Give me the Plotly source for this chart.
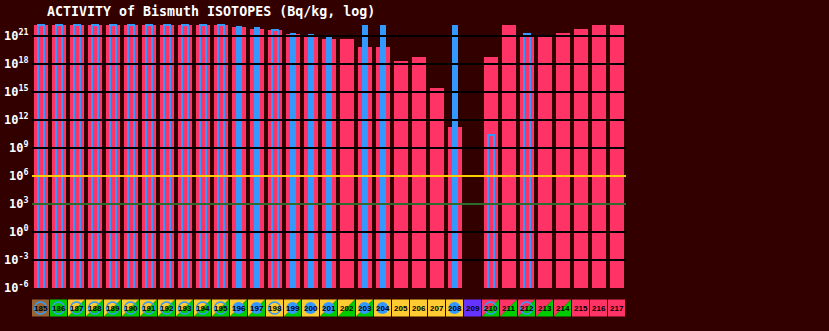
import plotly.graph_objects as go

# ---------------- data ----------------
ISOTOPES = [185, 186, 187, 188, 189, 190, 191, 192, 193, 194, 195, 196, 197, 198, 199, 200, 201,
            202, 203, 204, 205, 206, 207, 208, 209, 210, 211, 212, 213, 214, 215, 216, 217]

# ground-state activity (Bq/kg), None = no value
ACTIVITY_GROUND = [1.35e22, 1.35e22, 1.35e22, 1.35e22, 1.35e22, 1.35e22, 1.35e22, 1.35e22, 1.35e22,
                   1.35e22, 1.35e22, 8.3e21, 5.0e21, 4.0e21, 1.5e21, 9.8e20, 4.3e20, 4.3e20, 5.9e19,
                   5.9e19, 1.9e18, 5.0e18, 2.4e15, 2.0e11, None, 5.0e18, 1.35e22, 7.1e20, 8.9e20,
                   1.9e21, 5.0e21, 1.35e22, 1.35e22]

# isomer activity (Bq/kg), None = no isomer
ACTIVITY_ISOMER = [1.35e22, 1.35e22, 1.35e22, 1.35e22, 1.35e22, 1.35e22, 1.35e22, 1.35e22, 1.35e22,
                   1.35e22, 1.35e22, 1.15e22, 8.3e21, 4.0e21, 1.9e21, 1.5e21, 7.1e20, None, 1.35e22,
                   1.35e22, None, None, None, 1.35e22, None, 2.2e10, None, 1.5e21, None,
                   None, None, None, None]

# isomer kind: "est" = estimated (outline), "meas" = measured (solid), None
ISOMER_KIND = ["est", "est", "est", "est", "est", "est", "est", "est", "est", "est", "est",
               "meas", "meas", "est", "meas", "meas", "meas", None, "meas", "meas", None, None,
               None, "meas", None, "est", None, "est", None, None, None, None, None]

# decay modes (first mode drawn top-left, second bottom-right)
DECAY = ["p", "A", "EC/A", "EC/A", "EC/A", "EC/A", "EC/A", "EC/A", "EC/A", "EC/A", "EC/A",
         "EC/A", "EC/A", "EC", "EC/A", "EC", "EC/A", "EC/A", "EC/A", "EC", "EC", "EC", "EC", "EC",
         "S", "B-/A", "B-/A", "B-/A", "B-/A", "B-/A", "B-", "B-", "B-"]

Y_TICK_EXP = [-6, -3, 0, 3, 6, 9, 12, 15, 18, 21]

TITLE = "ACTIVITY of Bismuth ISOTOPES (Bq/kg, log)"

# ---------------- style ----------------
BG = "#330000"
PINK = "#FF3366"
BLUE = "#3399FF"
MODE_COLOR = {"p": "#996633", "A": "#00CC00", "EC": "#FFCC33", "B-": "#FF3366", "S": "#6633FF"}
GRID_COLOR = {6: "#FFCC00", 3: "#2E6B2E"}
AXIS_COLOR = "#4D5A33"

W, H = 829, 331
ML, MR, MT, MB = 32, 203, 0, 43
PLOT_H = H - MT - MB
N = len(ISOTOPES)
PX_PER_CAT = (W - ML - MR) / N
PX_PER_DEC = 28 / 3
Y_HI = 21 + 36 / PX_PER_DEC
Y_LO = Y_HI - PLOT_H / PX_PER_DEC

idx = list(range(N))

fig = go.Figure()

fig.add_trace(go.Bar(x=idx, y=ACTIVITY_GROUND, width=14 / PX_PER_CAT, zorder=0,
                     marker=dict(color=PINK, line=dict(width=0)), showlegend=False))

est_x = [i for i in idx if ISOMER_KIND[i] == "est"]
meas_x = [i for i in idx if ISOMER_KIND[i] == "meas"]
fig.add_trace(go.Bar(x=est_x, y=[ACTIVITY_ISOMER[i] for i in est_x], width=6 / PX_PER_CAT,
                     zorder=1,
                     marker=dict(color="rgba(0,0,0,0)", line=dict(color=BLUE, width=2)),
                     showlegend=False))
fig.add_trace(go.Bar(x=meas_x, y=[ACTIVITY_ISOMER[i] for i in meas_x], width=6 / PX_PER_CAT,
                     zorder=2,
                     marker=dict(color=BLUE, line=dict(width=0)), showlegend=False))

shapes = []
annotations = []

# grid lines drawn above the bars
for e in Y_TICK_EXP[1:]:
    shapes.append(dict(type="line", xref="paper", x0=0, x1=1, yref="y",
                       y0=10.0 ** e, y1=10.0 ** e, layer="above",
                       line=dict(color=GRID_COLOR.get(e, "#000000"), width=2)))

# decay-mode boxes under the axis
y_top = (PLOT_H - 299.5) / PLOT_H
y_bot = (PLOT_H - 316.5) / PLOT_H
y_mid = (y_top + y_bot) / 2
r_y = 6 / PLOT_H
for i in idx:
    x0 = i - 0.5
    x1 = i - 0.5 + 17 / PX_PER_CAT
    modes = DECAY[i].split("/")
    if len(modes) == 1:
        shapes.append(dict(type="rect", xref="x", yref="paper", x0=x0, x1=x1, y0=y_bot, y1=y_top,
                           fillcolor=MODE_COLOR[modes[0]], line=dict(width=0), layer="above"))
    else:
        shapes.append(dict(type="path", xref="x", yref="paper",
                           path=f"M {x0},{y_top} L {x1},{y_top} L {x0},{y_bot} Z",
                           fillcolor=MODE_COLOR[modes[0]], line=dict(width=0), layer="above"))
        shapes.append(dict(type="path", xref="x", yref="paper",
                           path=f"M {x1},{y_top} L {x1},{y_bot} L {x0},{y_bot} Z",
                           fillcolor=MODE_COLOR[modes[1]], line=dict(width=0), layer="above"))
    cx = (x0 + x1) / 2
    rx = 6 / PX_PER_CAT
    if ISOMER_KIND[i] == "est":
        shapes.append(dict(type="circle", xref="x", yref="paper", x0=cx - rx, x1=cx + rx,
                           y0=y_mid - r_y, y1=y_mid + r_y, fillcolor="rgba(0,0,0,0)",
                           line=dict(color=BLUE, width=1.5), layer="above"))
    elif ISOMER_KIND[i] == "meas":
        shapes.append(dict(type="circle", xref="x", yref="paper", x0=cx - rx, x1=cx + rx,
                           y0=y_mid - r_y, y1=y_mid + r_y, fillcolor=BLUE,
                           line=dict(width=0), layer="above"))
    annotations.append(dict(x=cx, y=y_mid, xref="x", yref="paper", text=str(ISOTOPES[i]),
                            showarrow=False, xanchor="center", yanchor="middle",
                            font=dict(family="Liberation Sans", size=8, color="#000000",
                                      weight="bold")))

fig.update_layout(
    width=W, height=H,
    margin=dict(l=ML, r=MR, t=MT, b=MB, pad=0),
    paper_bgcolor=BG, plot_bgcolor=BG,
    barmode="overlay", bargap=0,
    title=dict(text=TITLE, x=47 / W, xanchor="left", xref="container",
               y=1 - 11.5 / H, yanchor="middle", yref="container",
               font=dict(family="DejaVu Sans Mono", size=13.3, color="#FFFFFF", weight="bold")),
    shapes=shapes,
    annotations=annotations,
    xaxis=dict(range=[-0.5, N - 0.5], showgrid=False, zeroline=False, showticklabels=False,
               ticks="", showline=True, linecolor=AXIS_COLOR, linewidth=1, fixedrange=True),
    yaxis=dict(type="log", range=[Y_LO, Y_HI], showgrid=False, zeroline=False,
               tickvals=[10.0 ** e for e in Y_TICK_EXP],
               ticktext=[f"10<sup>{e}</sup>" for e in Y_TICK_EXP],
               ticks="", showline=True, linecolor=AXIS_COLOR, linewidth=1,
               tickfont=dict(family="DejaVu Sans Mono", size=12, color="#FFFFFF", weight="bold")),
)

fig.write_html("out.html")
